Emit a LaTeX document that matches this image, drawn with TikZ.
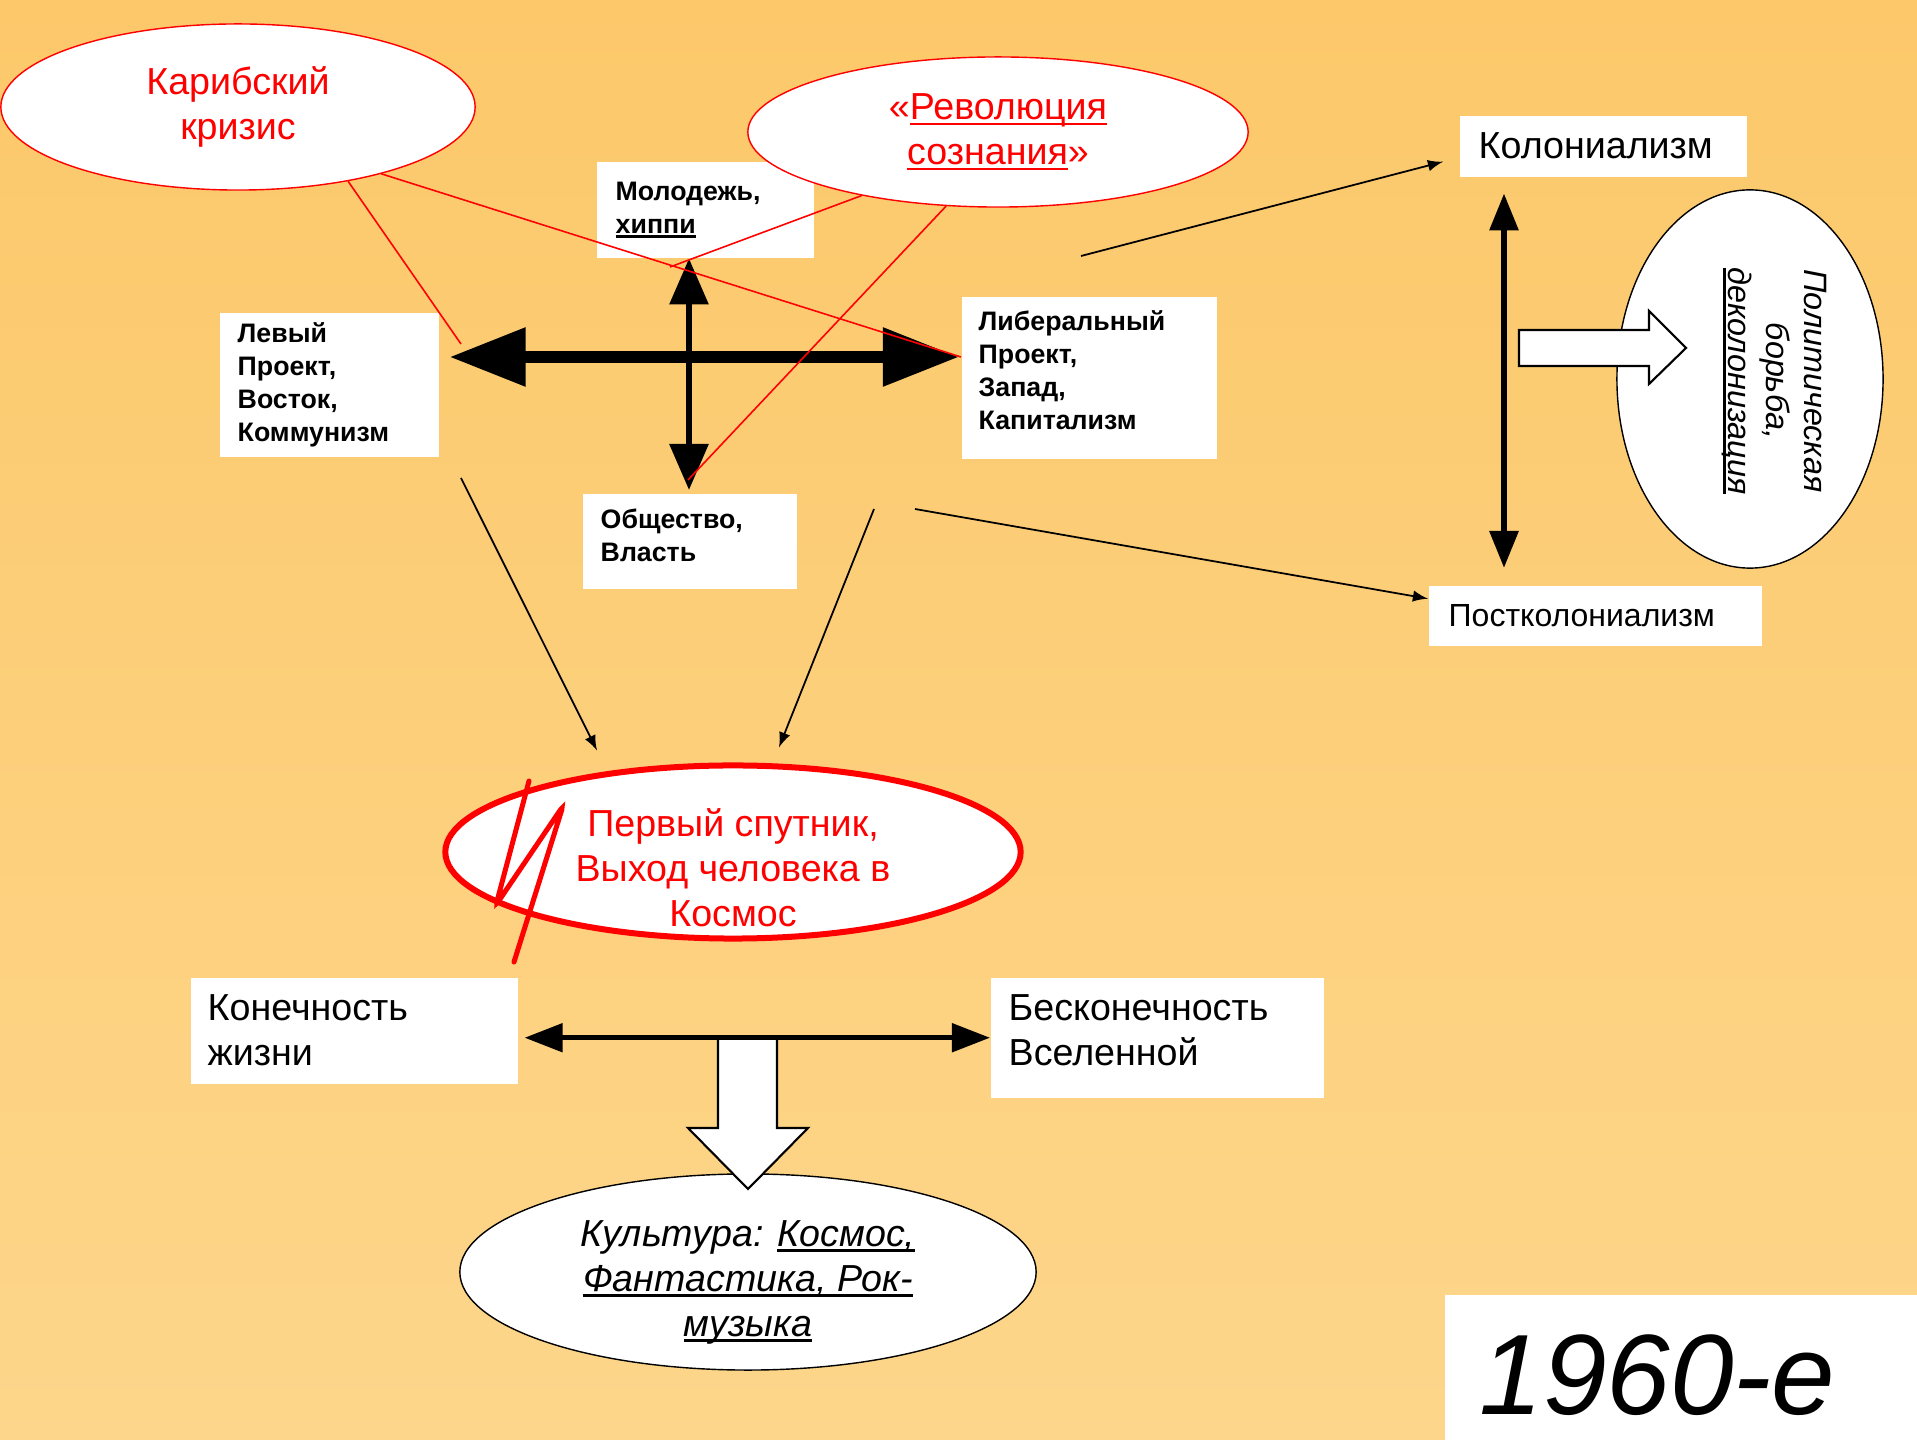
\documentclass[tikz,border=0pt]{standalone}
\usepackage{fontspec}
\setmainfont{Liberation Sans}
\usetikzlibrary{shapes, arrows.meta, positioning}

\definecolor{bgtop}{HTML}{FCC86A}
\definecolor{bgbottom}{HTML}{FDD68B}

% underline kept on the baseline
\newsavebox{\ulbox}
\newcommand{\uln}[1]{\leavevmode\sbox{\ulbox}{#1}\rlap{\rule[-0.3ex]{\wd\ulbox}{0.8pt}}\usebox{\ulbox}}

\tikzset{
    bigfont/.style={font=\fontsize{10.7}{12.8}\selectfont},
    smallfont/.style={font=\fontsize{7.6}{9.4}\selectfont\bfseries},
    infobox/.style={fill=white, anchor=north west, align=left, inner ysep=0pt},
    bubble/.style={ellipse, draw, fill=white, inner sep=0pt, align=center},
    thinarrow/.style={-latex, line width=0.5pt},
    redline/.style={red, line width=0.45pt},
    crossarrow/.style={line width=0.12cm,
        {Triangle[length=0.76cm, width=0.56cm]}-{Triangle[length=0.76cm, width=0.56cm]}},
    axisarrow/.style={line width=0.06cm,
        {Triangle[length=0.46cm, width=0.38cm]}-{Triangle[length=0.46cm, width=0.38cm]}},
    colarrow/.style={line width=0.06cm,
        {Triangle[length=0.37cm, width=0.28cm]}-{Triangle[length=0.37cm, width=0.28cm]}},
    lifearrow/.style={line width=0.05cm,
        {Triangle[length=0.38cm, width=0.28cm]}-{Triangle[length=0.38cm, width=0.28cm]}},
    blockarrow/.style={draw, fill=white, line width=0.6pt}
}

\begin{document}
\begin{tikzpicture}[x=0.01cm, y=-0.01cm]

\useasboundingbox (0,0) rectangle (1917,1440);
\shade[top color=bgtop, bottom color=bgbottom] (0,0) rectangle (1917,1440);

% Thin arrows
\coordinate (libnorth) at (1081,256);
\coordinate (libsouth) at (915,509);
\coordinate (levyfoot) at (461,478);
\coordinate (obshfoot) at (874,509);

% Boxes
\node[infobox,
    smallfont,
    inner xsep=0.18cm,
    text width=1.83cm,
    minimum height=1.44cm
] (levy) at (219,312) {Левый\\Проект,\\Восток,\\Коммунизм};

\node[infobox,
    smallfont,
    inner xsep=0.17cm,
    text width=2.21cm,
    text height=0.19cm,
    text depth=1.14cm,
    minimum height=1.62cm
] (lib) at (961,296) {Либеральный\\Проект,\\Запад,\\Капитализм};

\node[infobox,
    smallfont,
    inner xsep=0.19cm,
    text width=1.79cm,
    minimum height=0.96cm
] (molod) at (596,161) {Молодежь,\\\uln{хиппи}};

\node[infobox,
    smallfont,
    inner xsep=0.18cm,
    text width=1.78cm,
    text height=0.19cm,
    text depth=0.44cm,
    minimum height=0.95cm
] (obsh) at (582,493) {Общество,\\Власть};

\node[infobox,
    bigfont,
    inner xsep=0.19cm,
    text width=2.49cm,
    minimum height=0.61cm
] (kolon) at (1459,115) {Колониализм};

\node[infobox,
    font=\fontsize{9.1}{11}\selectfont,
    inner xsep=0.20cm,
    text width=2.93cm,
    minimum height=0.60cm
] (postk) at (1428,585) {Постколониализм};

\node[infobox,
    bigfont,
    inner xsep=0.17cm,
    text width=2.93cm,
    minimum height=1.06cm
] (kon) at (190,977) {Конечность\\жизни};

\node[infobox,
    bigfont,
    inner xsep=0.18cm,
    text width=2.97cm,
    text height=0.28cm,
    text depth=0.62cm,
    minimum height=1.20cm
] (besk) at (990,977) {Бесконечность\\Вселенной};

% Ellipses
\node[bubble,
    bigfont,
    draw=red,
    text=red,
    minimum width=4.74cm,
    minimum height=1.66cm
] (kar) at (238,107) {Карибский\\кризис};

\node[bubble,
    bigfont,
    draw=red,
    text=red,
    minimum width=5.0cm,
    minimum height=1.5cm
] (rev) at (998,132) {«\uln{Революция}\\\uln{сознания}»};

\node[bubble,
    minimum width=2.66cm,
    minimum height=3.78cm
] (pol) at (1750,379) {};

\node[bubble,
    draw=red,
    line width=0.06cm,
    minimum width=5.75cm,
    minimum height=1.73cm
] (sput) at (733,852) {};

\node[bubble,
    minimum width=5.76cm,
    minimum height=1.96cm
] (kult) at (748,1272) {};

% Texts over ellipses
\node[bigfont,
    text=red,
    align=center
] (sputtext) at (733,868) {Первый спутник,\\Выход человека в\\Космос};

\node[bigfont,
    align=center
] (kulttext) at (748,1282) {\itshape Культура: \uln{Космос,}\\\itshape\uln{Фантастика, Рок-}\\\itshape\uln{музыка}};

\node[font=\fontsize{9.2}{10.8}\selectfont\itshape,
    rotate=-90,
    align=center
] (poltext) at (1774,381) {Политическая\\борьба,\\\uln{деколонизация}};

% Arrows
\coordinate (hub) at (689,357);
\coordinate (colaxis) at (1504,380);

\draw[thinarrow] (libnorth) -- ([xshift=-0.16cm, yshift=-0.155cm]kolon.west);
\draw[thinarrow] (libsouth) -- ([yshift=0.17cm]postk.west);
\draw[thinarrow] (levyfoot) -- ([shift={(-136,-12)}]sput.north);
\draw[thinarrow] (obshfoot) -- ([shift={(46,-15)}]sput.north);

\draw[crossarrow, shorten <=0.1cm, shorten >=0.02cm] (levy.east |- hub) -- (lib.west |- hub);
\draw[axisarrow, shorten >=0.03cm] (molod.south -| hub) -- (obsh.north -| hub);
\draw[colarrow, shorten <=0.16cm, shorten >=0.17cm] (kolon.south -| colaxis) -- (postk.north -| colaxis);

\draw[blockarrow] (1519,330) -- (1649,330) -- (1649,311) -- (1686,348)
    -- (1649,384) -- (1649,366) -- (1519,366) -- cycle;
\draw[blockarrow] (718,1038) -- (718,1128) -- (688,1128) -- (748,1189)
    -- (808,1128) -- (777,1128) -- (777,1038) -- cycle;

\draw[lifearrow, shorten <=0.06cm] (kon.east |- besk.west) -- (besk.west);

% Red marks
\coordinate (levytip) at (461,344);
\coordinate (youthend) at (670,267);
\coordinate (powerend) at (688,480);

\draw[redline] (kar.-34) -- (levytip);
\draw[redline] (kar.-25) -- (lib.west |- hub);
\draw[redline] (rev.-155) -- (youthend);
\draw[redline] (rev.-125) -- (powerend);

\draw[red, line width=0.05cm, rounded corners=0.04cm, line cap=round]
    (529,781) -- (496,905) -- (563,806) -- (514,962);

% Decade
\node[infobox,
    font=\fontsize{32.5}{38}\selectfont\itshape,
    inner xsep=0.35cm,
    text width=4.03cm,
    text height=0.95cm,
    minimum height=1.46cm
] (decade) at (1444,1294) {1960-е};

\end{tikzpicture}
\end{document}
